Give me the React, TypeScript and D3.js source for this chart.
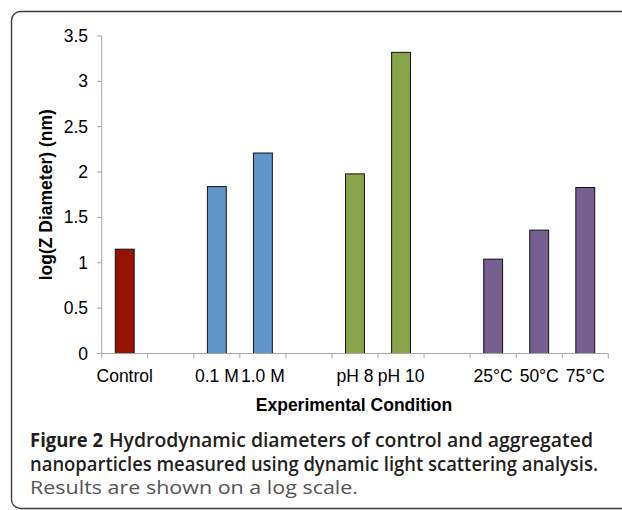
import * as d3 from "d3";

// chart values
const categories = ["Control", "", "0.1 M", "1.0 M", "", "pH 8", "pH 10", "", "25°C", "50°C", "75°C"];
const values: (number | null)[] = [1.15, null, 1.84, 2.21, null, 1.98, 3.32, null, 1.04, 1.36, 1.83];
const groups = ["control", "", "salt", "salt", "", "ph", "ph", "", "temp", "temp", "temp"];
const yTicks = [0, 0.5, 1, 1.5, 2, 2.5, 3, 3.5];

const groupColor: Record<string, string> = {
  control: "#951300",
  salt: "#6096c9",
  ph: "#88a44b",
  temp: "#765f91",
};

const W = 622;
const H = 510;
const chartFont = "'Liberation Sans', Arial, Helvetica, sans-serif";
const captionFont = "'Open Sans', 'Noto Sans', sans-serif";

export default function App() {
  const x = d3
    .scaleBand<number>()
    .domain(d3.range(categories.length))
    .range([101.7, 608.3])
    .padding(0);
  const y = d3.scaleLinear().domain([0, 3.5]).range([353.5, 36]);
  const barW = x.bandwidth() * 0.41;
  const tickXs = d3.range(categories.length + 1).map((i) => 101.7 + i * x.step());

  return (
    <svg
      width={W}
      height={H}
      style={{ position: "absolute", left: 0, top: 0, background: "#fff" }}
    >
      {/* figure frame */}
      <rect x={11.5} y={11.5} width={700} height={497} rx={9} fill="none" stroke="#3a3a3a" strokeWidth={1.4} />

      {/* bars */}
      {values.map((v, i) =>
        v == null ? null : (
          <rect
            key={i}
            x={(x(i) as number) + (x.bandwidth() - barW) / 2}
            y={y(v)}
            width={barW}
            height={y(0) - y(v)}
            fill={groupColor[groups[i]]}
            stroke="#111"
            strokeWidth={1}
          />
        )
      )}

      {/* y axis */}
      <line x1={101.7} x2={101.7} y1={y(3.5)} y2={y(0)} stroke="#a6a6a6" strokeWidth={1} />
      {yTicks.map((t) => (
        <g key={t}>
          <line x1={97} x2={101.7} y1={y(t)} y2={y(t)} stroke="#a6a6a6" strokeWidth={1} />
          <text x={88} y={y(t) + 6} textAnchor="end" fontFamily={chartFont} fontSize={17.5} fill="#000">
            {t}
          </text>
        </g>
      ))}

      {/* x axis */}
      <line x1={101.7} x2={608.3} y1={y(0)} y2={y(0)} stroke="#a6a6a6" strokeWidth={1} />
      {tickXs.map((tx, i) => (
        <line key={i} x1={tx} x2={tx} y1={y(0)} y2={y(0) + 5} stroke="#a6a6a6" strokeWidth={1} />
      ))}
      {categories.map((c, i) =>
        c ? (
          <text
            key={i}
            x={(x(i) as number) + x.bandwidth() / 2}
            y={382}
            textAnchor="middle"
            fontFamily={chartFont}
            fontSize={17.5}
            fill="#000"
          >
            {c}
          </text>
        ) : null
      )}

      {/* axis titles */}
      <text x={354} y={411} textAnchor="middle" fontFamily={chartFont} fontSize={17.5} fontWeight="bold">
        Experimental Condition
      </text>
      <text
        transform={`translate(52,${(y(0) + y(3.5)) / 2}) rotate(-90)`}
        textAnchor="middle"
        fontFamily={chartFont}
        fontSize={17.5}
        fontWeight="bold"
      >
        log(Z Diameter) (nm)
      </text>

      {/* caption */}
      <text x={30} y={447} fontFamily={captionFont} fontSize={19} fontWeight={700} fill="#231f20" textLength={73} lengthAdjust="spacingAndGlyphs">
        Figure 2
      </text>
      <text x={109} y={447} fontFamily={captionFont} fontSize={19} fontWeight={600} fill="#231f20" textLength={484} lengthAdjust="spacingAndGlyphs">
        Hydrodynamic diameters of control and aggregated
      </text>
      <text x={30} y={471} fontFamily={captionFont} fontSize={19} fontWeight={600} fill="#231f20" textLength={568} lengthAdjust="spacingAndGlyphs">
        nanoparticles measured using dynamic light scattering analysis.
      </text>
      <text x={30} y={494} fontFamily={captionFont} fontSize={19} fontWeight={400} fill="#555" textLength={328} lengthAdjust="spacingAndGlyphs">
        Results are shown on a log scale.
      </text>
    </svg>
  );
}
